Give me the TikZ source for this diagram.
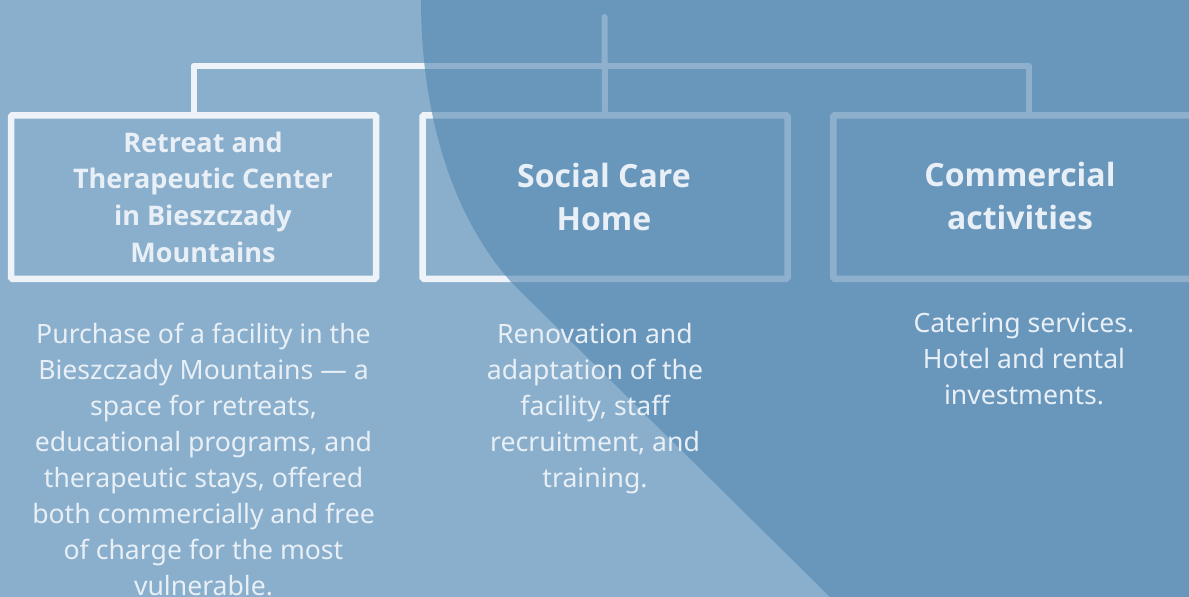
\documentclass[tikz,border=0pt]{standalone}
\usepackage{fontspec}
\setmainfont{Noto Sans}
\newfontfamily\titlefont{Open Sans}
\definecolor{bglight}{RGB}{138,175,204}
\definecolor{overlayc}{RGB}{87,138,180}
\definecolor{linec}{RGB}{238,243,249}
\definecolor{textc}{RGB}{232,239,246}
\begin{document}
\begin{tikzpicture}[x=1pt,y=-1pt,
  boxstyle/.style={draw=linec, line width=6.5pt, minimum width=365pt, minimum height=163.5pt, inner sep=0pt, rounded corners=1.5pt},
  conn/.style={draw=linec, line width=6pt, line cap=round, line join=round},
  titlesmall/.style={text=textc, align=center, inner sep=0pt, font=\titlefont\bfseries\fontsize{27}{36.7}\selectfont},
  titlebig/.style={text=textc, align=center, inner sep=0pt, font=\titlefont\bfseries\fontsize{32}{43}\selectfont},
  desc/.style={text=textc, align=center, inner sep=0pt, font=\fontsize{26.6}{36}\selectfont}]
\clip (0,0) rectangle (1189,597);
\fill[bglight] (0,0) rectangle (1189,597);
% boxes
\node[boxstyle] (b1) at (193.5,197) {};
\node[boxstyle] (b2) at (605,197) {};
\node[boxstyle, minimum width=391.5pt] (b3) at (1029,197) {};
% connectors
\coordinate (top) at (604.5,17);
\coordinate (hub) at (604.5,66);
\draw[conn] (b1.north) -- (b1.north |- hub) -- (b3.north |- hub) -- (b3.north);
\draw[conn] (top) -- (b2.north);
% darker overlay
\fill[overlayc, fill opacity=0.63] (421,0) .. controls (421,120) and (455,220) .. (512,283) -- (830,597) -- (1189,597) -- (1189,0) -- cycle;
% titles
\node[titlesmall] (t1) at (203,197) {Retreat and\\Therapeutic Center\\in Bieszczady\\Mountains};
\node[titlebig] (t2) at (604,197) {Social Care\\Home};
\node[titlebig] (t3) at (1020,196) {Commercial\\activities};
% descriptions
\node[desc] (d1) at (203.5,460) {Purchase of a facility in the\\Bieszczady Mountains — a\\space for retreats,\\educational programs, and\\therapeutic stays, offered\\both commercially and free\\of charge for the most\\vulnerable.};
\node[desc] (d2) at (595,409) {Renovation and\\adaptation of the\\facility, staff\\recruitment, and\\training.};
\node[desc] (d3) at (1024,359) {Catering services.\\Hotel and rental\\investments.};
\end{tikzpicture}
\end{document}
